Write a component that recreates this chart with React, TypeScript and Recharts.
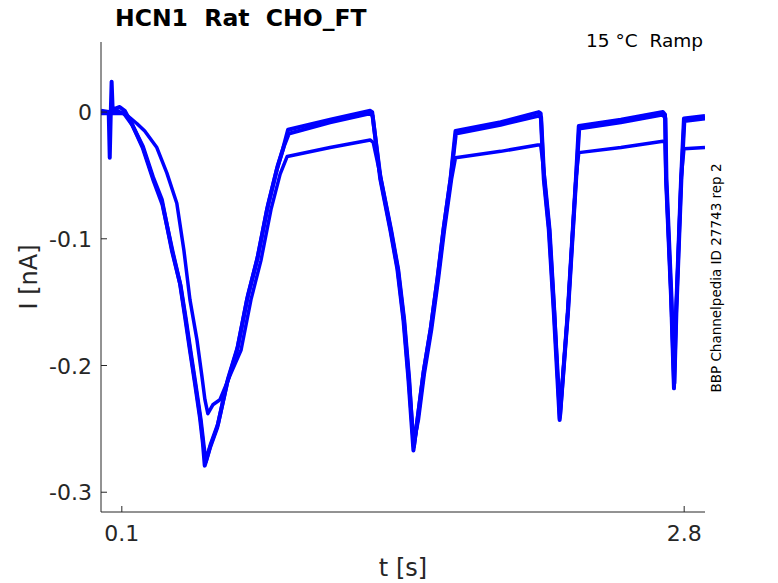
import React from "react";
import { LineChart, Line, XAxis, YAxis } from "recharts";

// ---- data ----
const traceATime = [0.000, 0.037, 0.042, 0.047, 0.051, 0.056, 0.090, 0.114, 0.153, 0.201, 0.249, 0.292, 0.340, 0.379, 0.403, 0.427, 0.451, 0.475, 0.489, 0.498, 0.523, 0.558, 0.605, 0.653, 0.701, 0.749, 0.797, 0.845, 0.874, 0.898, 1.100, 1.293, 1.302, 1.341, 1.389, 1.423, 1.452, 1.476, 1.500, 1.519, 1.548, 1.582, 1.615, 1.644, 1.678, 1.702, 1.919, 2.102, 2.111, 2.126, 2.150, 2.174, 2.202, 2.241, 2.265, 2.280, 2.294, 2.496, 2.698, 2.708, 2.713, 2.737, 2.751, 2.761, 2.785, 2.799, 2.900];
const traceACurrent = [0.001, 0.000, -0.036, 0.000, 0.024, 0.002, 0.004, 0.001, -0.011, -0.027, -0.051, -0.069, -0.109, -0.135, -0.161, -0.188, -0.214, -0.241, -0.261, -0.279, -0.265, -0.249, -0.214, -0.188, -0.148, -0.117, -0.077, -0.045, -0.029, -0.014, -0.006, 0.001, 0.000, -0.053, -0.093, -0.124, -0.164, -0.211, -0.267, -0.243, -0.206, -0.172, -0.132, -0.093, -0.053, -0.015, -0.008, 0.000, -0.001, -0.053, -0.093, -0.158, -0.243, -0.158, -0.093, -0.053, -0.011, -0.006, 0.000, -0.002, -0.053, -0.146, -0.218, -0.158, -0.053, -0.005, -0.003];

const traceBTime = [0.000, 0.060, 0.110, 0.150, 0.200, 0.250, 0.295, 0.345, 0.382, 0.407, 0.431, 0.455, 0.479, 0.493, 0.503, 0.527, 0.562, 0.609, 0.657, 0.705, 0.753, 0.801, 0.849, 0.878, 0.902, 1.100, 1.293, 1.304, 1.343, 1.391, 1.425, 1.454, 1.478, 1.502, 1.521, 1.550, 1.584, 1.617, 1.646, 1.680, 1.704, 1.919, 2.100, 2.113, 2.128, 2.152, 2.176, 2.204, 2.243, 2.267, 2.282, 2.296, 2.496, 2.698, 2.710, 2.715, 2.739, 2.753, 2.763, 2.787, 2.801, 2.900];
const traceBCurrent = [-0.001, -0.001, -0.001, -0.010, -0.028, -0.053, -0.073, -0.111, -0.137, -0.163, -0.190, -0.216, -0.243, -0.263, -0.276, -0.262, -0.246, -0.211, -0.185, -0.145, -0.114, -0.074, -0.042, -0.027, -0.017, -0.008, -0.001, -0.003, -0.053, -0.093, -0.124, -0.164, -0.211, -0.264, -0.241, -0.204, -0.170, -0.130, -0.091, -0.051, -0.017, -0.010, -0.003, -0.004, -0.053, -0.093, -0.158, -0.240, -0.156, -0.091, -0.051, -0.013, -0.008, -0.002, -0.005, -0.053, -0.146, -0.214, -0.156, -0.051, -0.007, -0.005];

const traceCTime = [0.000, 0.080, 0.128, 0.172, 0.210, 0.268, 0.316, 0.364, 0.398, 0.427, 0.461, 0.485, 0.499, 0.513, 0.537, 0.571, 0.619, 0.672, 0.720, 0.768, 0.816, 0.860, 0.894, 1.100, 1.293, 1.307, 1.345, 1.394, 1.428, 1.457, 1.481, 1.500, 1.524, 1.553, 1.587, 1.620, 1.649, 1.683, 1.702, 1.919, 2.097, 2.111, 2.131, 2.155, 2.178, 2.202, 2.241, 2.265, 2.280, 2.294, 2.496, 2.698, 2.708, 2.713, 2.737, 2.751, 2.761, 2.785, 2.799, 2.900];
const traceCCurrent = [-0.001, 0.001, -0.003, -0.009, -0.015, -0.028, -0.048, -0.072, -0.109, -0.148, -0.180, -0.209, -0.227, -0.238, -0.231, -0.227, -0.208, -0.188, -0.148, -0.117, -0.077, -0.049, -0.035, -0.028, -0.022, -0.024, -0.053, -0.093, -0.124, -0.164, -0.211, -0.263, -0.243, -0.206, -0.172, -0.132, -0.093, -0.053, -0.036, -0.031, -0.026, -0.026, -0.053, -0.093, -0.158, -0.242, -0.158, -0.093, -0.053, -0.032, -0.028, -0.023, -0.024, -0.053, -0.146, -0.216, -0.158, -0.053, -0.029, -0.028];

const xTicks = [0.1, 2.8];
const xTickLabels = ["0.1", "2.8"];
const yTicks = [-0.3, -0.2, -0.1, 0];
const yTickLabels = ["-0.3", "-0.2", "-0.1", "0"];
const xDomain = [0, 2.9];
const yDomain = [-0.3156, 0.0553];

const titleText = "HCN1  Rat  CHO_FT";
const conditionText = "15 \u00B0C  Ramp";
const sideText = "BBP Channelpedia ID 27743 rep 2";
const xLabelText = "t [s]";
const yLabelText = "I [nA]";

const zip = (ts: number[], is: number[]) => ts.map((t, k) => ({ t, I: is[k] }));
const dataA = zip(traceATime, traceACurrent);
const dataB = zip(traceBTime, traceBCurrent);
const dataC = zip(traceCTime, traceCCurrent);

const AX = "#262626";
const BLUE = "#0000ff";
const FONT = "DejaVu Sans, sans-serif";
const pre: React.CSSProperties = { whiteSpace: "pre" };

const XTick = (props: any) => {
  const { x, y, payload } = props;
  const idx = xTicks.indexOf(payload.value);
  return (
    <g>
      <line x1={x} x2={x} y1={y} y2={y - 6} stroke={AX} strokeWidth={1} />
      <text x={x} y={y + 29} textAnchor="middle" fontSize={22} fill={AX} fontFamily={FONT}>
        {idx >= 0 ? xTickLabels[idx] : payload.value}
      </text>
    </g>
  );
};

const YTick = (props: any) => {
  const { x, y, payload } = props;
  const idx = yTicks.indexOf(payload.value);
  return (
    <g>
      <line x1={x} x2={x + 6} y1={y} y2={y} stroke={AX} strokeWidth={1} />
      <text x={x - 9} y={y + 8} textAnchor="end" fontSize={22} fill={AX} fontFamily={FONT}>
        {idx >= 0 ? yTickLabels[idx] : payload.value}
      </text>
    </g>
  );
};

export default function App() {
  return (
    <div style={{ position: "absolute", left: 0, top: 0, width: 778, height: 583, background: "#fff" }}>
      <LineChart width={778} height={583} margin={{ top: 42, right: 73, bottom: 0, left: 0 }}>
        <XAxis
          dataKey="t"
          type="number"
          domain={xDomain}
          ticks={xTicks}
          allowDataOverflow
          height={71}
          tickSize={0}
          tickMargin={0}
          tickLine={false}
          axisLine={{ stroke: AX, strokeWidth: 1 }}
          tick={<XTick />}
        />
        <YAxis
          dataKey="I"
          type="number"
          domain={yDomain}
          ticks={yTicks}
          allowDataOverflow
          width={101}
          tickSize={0}
          tickMargin={0}
          tickLine={false}
          axisLine={{ stroke: AX, strokeWidth: 1 }}
          tick={<YTick />}
        />
        <Line data={dataC} dataKey="I" type="linear" dot={false} stroke={BLUE} strokeWidth={3.5} strokeLinejoin="round" isAnimationActive={false} />
        <Line data={dataB} dataKey="I" type="linear" dot={false} stroke={BLUE} strokeWidth={4} strokeLinejoin="round" isAnimationActive={false} />
        <Line data={dataA} dataKey="I" type="linear" dot={false} stroke={BLUE} strokeWidth={4} strokeLinejoin="round" isAnimationActive={false} />
      </LineChart>
      <svg width={778} height={583} style={{ position: "absolute", left: 0, top: 0, pointerEvents: "none" }}>
        <text x={115} y={26} fontSize={23.5} fontWeight="bold" fill="#000" fontFamily={FONT} xmlSpace="preserve" style={pre}>{titleText}</text>
        <text x={703} y={47} fontSize={18.5} textAnchor="end" fill="#000" fontFamily={FONT} xmlSpace="preserve" style={pre}>{conditionText}</text>
        <text x={0} y={0} fontSize={13.5} textAnchor="middle" fill="#000" fontFamily={FONT} transform="translate(721 278) rotate(-90)">{sideText}</text>
        <text x={403} y={576} fontSize={24} textAnchor="middle" fill={AX} fontFamily={FONT}>{xLabelText}</text>
        <text x={0} y={0} fontSize={24} textAnchor="middle" fill={AX} fontFamily={FONT} transform="translate(37 277) rotate(-90)">{yLabelText}</text>
      </svg>
    </div>
  );
}
